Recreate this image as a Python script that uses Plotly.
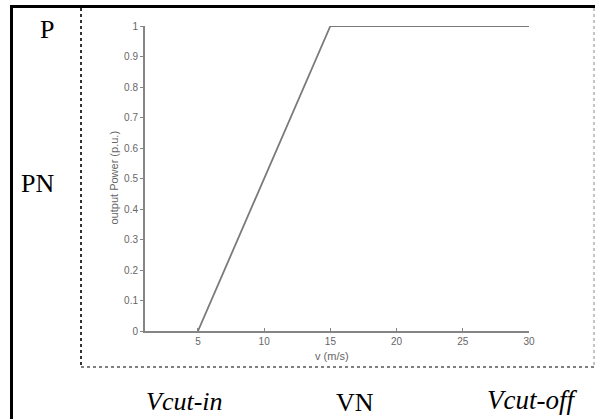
import plotly.graph_objects as go

# Data
wind_speed = [5, 15, 30]          # v (m/s)
output_power = [0, 1, 1]          # p.u.
x_ticks = [5, 10, 15, 20, 25, 30]
y_ticks = [0, 0.1, 0.2, 0.3, 0.4, 0.5, 0.6, 0.7, 0.8, 0.9, 1]
y_tick_labels = ["0", "0.1", "0.2", "0.3", "0.4", "0.5", "0.6", "0.7", "0.8", "0.9", "1"]

W, H = 595, 419
L, R, T, B = 145, 529, 26, 331  # plot area pixel bounds

def px(x):
    return (x - L) / (R - L)

def py(y):
    return (B - y) / (B - T)

fig = go.Figure()
fig.add_trace(go.Scatter(
    x=wind_speed, y=output_power, mode="lines",
    line=dict(color="#7a7a7a", width=1.8), showlegend=False, cliponaxis=False,
    hoverinfo="skip",
))

sans = "Liberation Sans, Arial, sans-serif"
serif = "Liberation Serif, Times New Roman, serif"
tick_font = dict(family=sans, size=10, color="#666666")

fig.update_layout(
    width=W, height=H,
    margin=dict(l=L, r=W - R, t=T, b=H - B, pad=0),
    paper_bgcolor="white", plot_bgcolor="white",
    xaxis=dict(
        range=[1, 30], tickvals=x_ticks, ticktext=[str(v) for v in x_ticks],
        showgrid=False, zeroline=False, showline=True, linecolor="#858585", linewidth=2,
        ticks="inside", ticklen=3, tickcolor="#858585", tickwidth=1,
        tickfont=tick_font,
    ),
    yaxis=dict(
        range=[0, 1], tickvals=y_ticks, ticktext=y_tick_labels,
        showgrid=False, zeroline=False, showline=True, linecolor="#858585", linewidth=2,
        ticks="outside", ticklen=3, tickcolor="#858585", tickwidth=1,
        tickfont=tick_font,
    ),
)

annotations = [
    dict(text="output Power (p.u.)", x=px(113), y=py(177.5), textangle=-90,
         font=dict(family=sans, size=11, color="#666666")),
    dict(text="v (m/s)", x=px(332), y=py(356),
         font=dict(family=sans, size=11, color="#666666")),
    dict(text="P", x=px(47), y=py(30),
         font=dict(family=serif, size=26, color="black")),
    dict(text="PN", x=px(37), y=py(183),
         font=dict(family=serif, size=26, color="black")),
    dict(text="<i>Vcut-in</i>", x=px(184), y=py(401),
         font=dict(family=serif, size=26, color="black")),
    dict(text="VN", x=px(355), y=py(402),
         font=dict(family=serif, size=26, color="black")),
    dict(text="<i>Vcut-off</i>", x=px(532), y=py(400),
         font=dict(family=serif, size=27, color="black")),
]
for a in annotations:
    a.update(xref="paper", yref="paper", showarrow=False, xanchor="center", yanchor="middle")
fig.update_layout(annotations=annotations)

shapes = [
    # outer black border (top and left)
    dict(x0=px(10), x1=px(595), y0=py(6.5), y1=py(6.5), line=dict(color="black", width=3)),
    dict(x0=px(11.5), x1=px(11.5), y0=py(5), y1=py(419), line=dict(color="black", width=3)),
    # dotted frame around the figure
    dict(x0=px(81), x1=px(81), y0=py(8), y1=py(367), line=dict(color="#333333", width=2, dash="dot")),
    dict(x0=px(81), x1=px(594), y0=py(367), y1=py(367), line=dict(color="#555555", width=1.5, dash="dot")),
    dict(x0=px(594), x1=px(594), y0=py(8), y1=py(367), line=dict(color="#888888", width=1, dash="dot")),
]
for s in shapes:
    s.update(type="line", xref="paper", yref="paper")
fig.update_layout(shapes=shapes)

fig.write_html(
    "out.html",
    config={"displayModeBar": False, "staticPlot": True},
    post_script="document.body.style.margin='0px';document.body.style.padding='0px';document.body.style.overflow='hidden';",
)
